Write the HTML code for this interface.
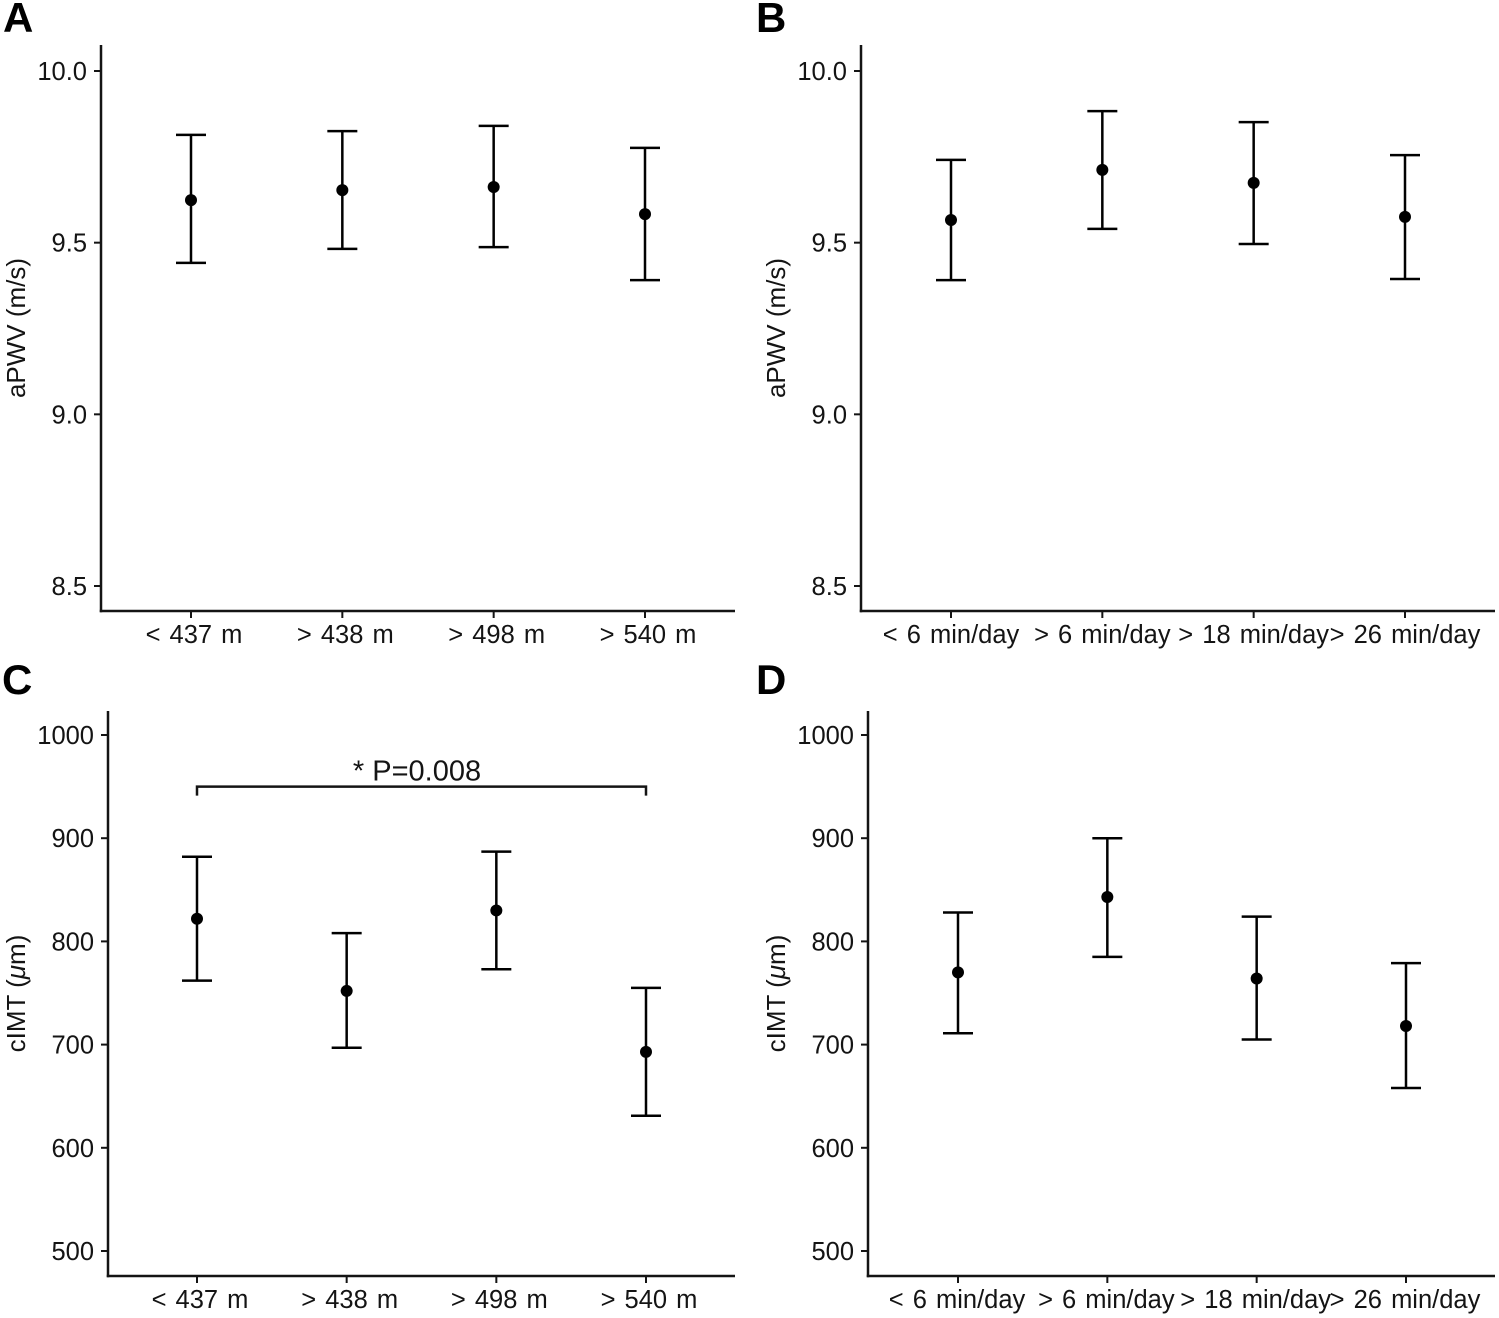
<!DOCTYPE html>
<html lang="en">
<head>
<meta charset="utf-8">
<title>aPWV and cIMT by category</title>
<style>
html,body{margin:0;padding:0;background:#fff;width:1499px;height:1318px;overflow:hidden}
svg{display:block;font-family:"Liberation Sans",Arial,sans-serif}
text{fill:#141414}
.letter{font-weight:bold;font-size:42px;fill:#000}
.tick{font-size:25.5px}
.xtick{font-size:25.5px;word-spacing:2px}
.title{font-size:26px}
.ann{font-size:29px}
</style>
</head>
<body>
<svg id="figure" xmlns="http://www.w3.org/2000/svg" width="1499" height="1318" viewBox="0 0 1499 1318">
<rect x="0" y="0" width="1499" height="1318" fill="#fff"/>
</svg>
<script>
// ---- Data ----
const distanceCategories = ['< 437 m', '> 438 m', '> 498 m', '> 540 m'];
const mvpaCategories = ['< 6 min/day', '> 6 min/day', '> 18 min/day', '> 26 min/day'];
const pwvTicks = [8.5, 9.0, 9.5, 10.0];
const pwvTickLabels = ['8.5', '9.0', '9.5', '10.0'];
const imtTicks = [500, 600, 700, 800, 900, 1000];
const imtTickLabels = ['500', '600', '700', '800', '900', '1000'];

const panelAMeans = [9.624, 9.653, 9.662, 9.583];
const panelAUpper = [9.814, 9.825, 9.840, 9.776];
const panelALower = [9.441, 9.482, 9.487, 9.391];

const panelBMeans = [9.566, 9.712, 9.674, 9.575];
const panelBUpper = [9.741, 9.883, 9.851, 9.755];
const panelBLower = [9.391, 9.540, 9.496, 9.394];

const panelCMeans = [822, 752, 830, 693];
const panelCUpper = [882, 808, 887, 755];
const panelCLower = [762, 697, 773, 631];

const panelDMeans = [770, 843, 764, 718];
const panelDUpper = [828, 900, 824, 779];
const panelDLower = [711, 785, 705, 658];

const significanceValue = 950;
const significanceLabel = '* P=0.008';

// ---- Drawing ----
const SVG_NS = 'http://www.w3.org/2000/svg';
const figure = document.getElementById('figure');

function mk(parent, tag, attrs) {
  const node = document.createElementNS(SVG_NS, tag);
  for (const key in attrs) node.setAttribute(key, attrs[key]);
  parent.appendChild(node);
  return node;
}

function linear(d0, d1, r0, r1) {
  return v => r0 + (v - d0) * (r1 - r0) / (d1 - d0);
}

const INK = '#141414';

function drawPanel(p) {
  const y = linear(p.ticks[0], p.ticks[p.ticks.length - 1], p.tickPxBottom, p.tickPxTop);
  const x = linear(0, p.categories.length - 1, p.firstX, p.lastX);

  const group = mk(figure, 'g', {});
  
  

  const letter = mk(group, 'text', {x: p.letterX, y: p.letterY, class: 'letter'});
  
  
  letter.textContent = p.id;

  const yAxis = mk(group, 'line', {x1: p.axisX, x2: p.axisX, y1: p.axisTop, y2: p.axisY + 1.25, stroke: INK, 'stroke-width': 2.5});
  
  

  const xAxis = mk(group, 'line', {x1: p.axisX - 1.25, x2: p.axisRight, y1: p.axisY, y2: p.axisY, stroke: INK, 'stroke-width': 2.5});
  
  

  p.ticks.forEach((t, i) => {
    const mark = mk(group, 'line', {x1: p.axisX - 7, x2: p.axisX, y1: y(t), y2: y(t), stroke: INK, 'stroke-width': 2});
    
    
    const label = mk(group, 'text', {x: p.axisX - 14, y: y(t) + 9, 'text-anchor': 'end', class: 'tick'});
    
    
    label.textContent = p.tickLabels[i];
  });

  p.categories.forEach((c, i) => {
    const cx = x(i);
    const mark = mk(group, 'line', {x1: cx, x2: cx, y1: p.axisY, y2: p.axisY + 7, stroke: INK, 'stroke-width': 2});
    
    
    const label = mk(group, 'text', {x: cx + p.labelDx, y: p.axisY + 32, 'text-anchor': 'middle', class: 'xtick'});
    
    
    label.textContent = c;

    const bar = mk(group, 'line', {x1: cx, x2: cx, y1: y(p.upper[i]), y2: y(p.lower[i]), stroke: '#000', 'stroke-width': 2.5});
    
    
    const capTop = mk(group, 'line', {x1: cx - 15, x2: cx + 15, y1: y(p.upper[i]), y2: y(p.upper[i]), stroke: '#000', 'stroke-width': 2.5});
    
    
    const capBottom = mk(group, 'line', {x1: cx - 15, x2: cx + 15, y1: y(p.lower[i]), y2: y(p.lower[i]), stroke: '#000', 'stroke-width': 2.5});
    
    
    const point = mk(group, 'circle', {cx: cx, cy: y(p.means[i]), r: 6, fill: '#000'});
    
    
  });

  const title = mk(group, 'text', {
    transform: 'translate(' + p.titleX + ',' + p.titleY + ') rotate(-90)',
    'text-anchor': 'middle', class: 'title'
  });
  
  
  p.title.forEach(part => {
    const span = mk(title, 'tspan', part.italic ? {'font-style': 'italic'} : {});
    span.textContent = part.text;
  });

  return {x, y, group};
}

const panelA = drawPanel({
  id: 'A', categories: distanceCategories, means: panelAMeans, upper: panelAUpper, lower: panelALower,
  ticks: pwvTicks, tickLabels: pwvTickLabels, tickPxBottom: 586, tickPxTop: 71,
  firstX: 191, lastX: 645, labelDx: 3, axisX: 101, axisTop: 45, axisY: 611, axisRight: 735,
  letterX: 3, letterY: 32, titleX: 25, titleY: 328, title: [{text: 'aPWV (m/s)'}]
});
const panelB = drawPanel({
  id: 'B', categories: mvpaCategories, means: panelBMeans, upper: panelBUpper, lower: panelBLower,
  ticks: pwvTicks, tickLabels: pwvTickLabels, tickPxBottom: 586, tickPxTop: 71,
  firstX: 951, lastX: 1405, labelDx: 0, axisX: 861, axisTop: 45, axisY: 611, axisRight: 1495,
  letterX: 756, letterY: 32, titleX: 785, titleY: 328, title: [{text: 'aPWV (m/s)'}]
});
const panelC = drawPanel({
  id: 'C', categories: distanceCategories, means: panelCMeans, upper: panelCUpper, lower: panelCLower,
  ticks: imtTicks, tickLabels: imtTickLabels, tickPxBottom: 1251, tickPxTop: 735,
  firstX: 197, lastX: 646, labelDx: 3, axisX: 108, axisTop: 711, axisY: 1276, axisRight: 735,
  letterX: 2, letterY: 694, titleX: 25, titleY: 993.5,
  title: [{text: 'cIMT ('}, {text: 'μ', italic: true}, {text: 'm)'}]
});
const panelD = drawPanel({
  id: 'D', categories: mvpaCategories, means: panelDMeans, upper: panelDUpper, lower: panelDLower,
  ticks: imtTicks, tickLabels: imtTickLabels, tickPxBottom: 1251, tickPxTop: 735,
  firstX: 958, lastX: 1406, labelDx: -1, axisX: 868, axisTop: 711, axisY: 1276, axisRight: 1495,
  letterX: 756, letterY: 694, titleX: 785, titleY: 993.5,
  title: [{text: 'cIMT ('}, {text: 'μ', italic: true}, {text: 'm)'}]
});

// Significance bracket on panel C: first versus last category
const bracketY = panelC.y(significanceValue);
const bracketLeft = panelC.x(0);
const bracketRight = panelC.x(distanceCategories.length - 1);
const bracket = mk(panelC.group, 'path', {
  d: 'M' + bracketLeft + ' ' + (bracketY + 9) + 'V' + bracketY + 'H' + bracketRight + 'V' + (bracketY + 9),
  fill: 'none', stroke: INK, 'stroke-width': 2.5
});


const bracketText = mk(panelC.group, 'text', {
  x: (bracketLeft + bracketRight) / 2 - 4.5, y: bracketY - 6, 'text-anchor': 'middle', class: 'ann'
});


bracketText.textContent = significanceLabel;
</script>
</body>
</html>
